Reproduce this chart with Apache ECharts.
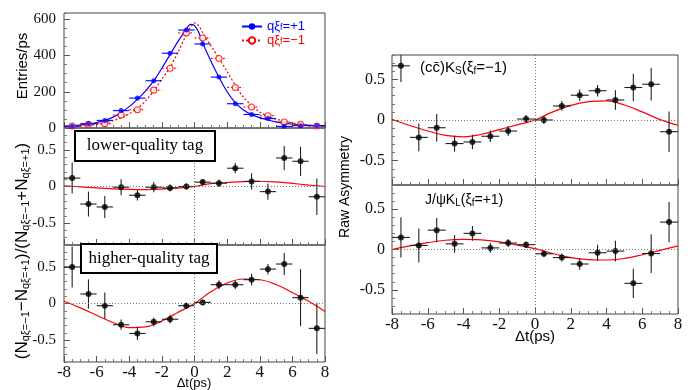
<!DOCTYPE html>
<html><head><meta charset="utf-8">
<script src="https://cdn.jsdelivr.net/npm/echarts@6/dist/echarts.min.js"></script>
<style>html,body{margin:0;padding:0;background:#fff}#c{width:691px;height:390px}</style>
</head><body><div id="c"></div><script>
// ---------- data ----------
const binCenters = [-7.5,-6.5,-5.5,-4.5,-3.5,-2.5,-1.5,-0.5,0.5,1.5,2.5,3.5,4.5,5.5,6.5,7.5];
const binHalfWidth = 0.5;

// top panel: entries/ps
const blueCounts = [10,24,42,96,165,261,413,541,464,281,134,75,52,9,13,13];
const redCounts  = [11,20,24,72,101,209,330,525,497,384,224,116,68,33,20,11];
const topCurveT = [-8,-7.5,-7,-6.5,-6,-5.5,-5,-4.5,-4,-3.5,-3,-2.5,-2,-1.5,-1,-0.5,-0.25,0,0.25,0.5,1,1.5,2,2.5,3,3.5,4,4.5,5,5.5,6,6.5,7,7.5,8];
const blueFit = [9,12,16,22,30,42,60,86,118,158,205,260,330,405,480,545,572,565,530,470,370,280,200,140,100,75,57,44,34,27,22,18,15,13,11];
const redFit  = [6,8,11,15,20,28,40,55,78,108,150,205,270,335,420,515,555,580,565,527,455,385,312,236,170,125,88,64,49,38,28,21,16,12,10];

// asymmetry panels
const asymCurveT = [-8,-7,-6,-5,-4,-3,-2,-1,0,1,2,3,4,5,6,7,8];
const lowerVals  = [0.115,-0.24,-0.28,-0.01,-0.12,-0.01,-0.02,0.0,0.06,0.045,0.25,0.07,-0.07,0.39,0.345,-0.14];
const lowerErrs  = [0.21,0.17,0.15,0.11,0.07,0.07,0.05,0.04,0.04,0.05,0.07,0.11,0.11,0.165,0.2,0.25];
const lowerFit   = [0.01,-0.005,-0.02,-0.032,-0.04,-0.043,-0.035,-0.02,0.0,0.04,0.055,0.068,0.072,0.062,0.042,0.02,0.0];

const higherVals = [0.50,0.13,-0.03,-0.29,-0.41,-0.25,-0.215,-0.03,0.015,0.257,0.257,0.326,0.47,0.54,0.08,-0.34];
const higherErrs = [0.28,0.2,0.18,0.07,0.09,0.06,0.06,0.04,0.04,0.06,0.06,0.08,0.07,0.15,0.39,0.35];
const higherFit  = [0.03,-0.06,-0.16,-0.26,-0.33,-0.32,-0.24,-0.12,0.0,0.16,0.28,0.335,0.325,0.26,0.15,0.03,-0.11];

const ksVals = [0.667,-0.214,-0.095,-0.29,-0.27,-0.2,-0.136,0.012,0.0,0.173,0.305,0.36,0.247,0.40,0.44,-0.144];
const ksErrs = [0.2,0.17,0.17,0.1,0.09,0.07,0.06,0.05,0.05,0.06,0.07,0.07,0.12,0.17,0.2,0.25];
const ksFit  = [0.01,-0.068,-0.135,-0.19,-0.208,-0.175,-0.118,-0.06,0.0,0.1,0.18,0.225,0.235,0.185,0.1,0.005,-0.065];

const klVals = [0.15,0.05,0.24,0.07,0.20,0.02,0.08,0.06,-0.053,-0.10,-0.18,-0.04,-0.02,-0.42,-0.05,0.34];
const klErrs = [0.25,0.21,0.15,0.11,0.09,0.06,0.05,0.04,0.04,0.05,0.07,0.1,0.13,0.18,0.24,0.25];
const klFit  = [0.0,0.045,0.085,0.115,0.125,0.12,0.095,0.055,0.01,-0.05,-0.1,-0.125,-0.13,-0.11,-0.065,-0.01,0.045];

const asymTickLabels = [-0.5,0,0.5];
const countTickLabels = [0,200,400,600];

// ---------- chart ----------
const SERIF = 'Liberation Serif', SANS = 'Liberation Sans';
const grids = [
  {left:64, top:13, width:261, height:115},
  {left:64, top:128, width:261, height:117},
  {left:64, top:245, width:261, height:117},
  {left:392, top:55, width:286, height:130},
  {left:392, top:185, width:286, height:129}
].map(g => Object.assign({show:true, borderColor:'#444', borderWidth:1, backgroundColor:'rgba(0,0,0,0)'}, g));

function xAx(i, showLabels){
  return {type:'value', gridIndex:i, min:-8, max:8, interval:2, position:'bottom',
    axisLine:{show:false, onZero:false}, splitLine:{show:false},
    axisTick:{show:true, inside:true, length:6, lineStyle:{color:'#555'}},
    minorTick:{show:true, splitNumber:4, length:3, lineStyle:{color:'#777'}},
    axisLabel:{show:showLabels, fontFamily:SERIF, fontSize:17, color:'#111', margin:2, showMinLabel:true, showMaxLabel:true}};
}
function fmtAsym(v){ const r = Math.round(v*2)/2; return r === 0 ? '0' : String(r); }
function isHalf(v){ return Math.abs(v*2 - Math.round(v*2)) < 1e-6; }
function yAsym(i, fontSize, margin){
  return [
    {type:'value', gridIndex:i, min:-0.8, max:0.8, interval:0.1, position:'left',
      axisLine:{show:false, onZero:false}, splitLine:{show:false},
      axisTick:{show:true, inside:true, length:3, lineStyle:{color:'#777'}},
      axisLabel:{fontFamily:SERIF, fontSize:fontSize, color:'#111', margin:margin,
        formatter: v => isHalf(v) ? fmtAsym(v) : ''}},
    {type:'value', gridIndex:i, min:-0.8, max:0.8, position:'left', offset:0,
      axisLine:{show:false, onZero:false}, splitLine:{show:false},
      axisTick:{show:true, inside:true, length:6, customValues:asymTickLabels, lineStyle:{color:'#555'}},
      axisLabel:{show:false}}
  ];
}
const yAxes = [
  {type:'value', gridIndex:0, min:0, max:635, interval:50, position:'left',
    axisLine:{show:false, onZero:false}, splitLine:{show:false},
    axisTick:{show:true, inside:true, length:3, lineStyle:{color:'#777'}},
    axisLabel:{fontFamily:SERIF, fontSize:15, color:'#111', margin:8,
      formatter: v => countTickLabels.indexOf(v) >= 0 ? String(v) : ''}},
  {type:'value', gridIndex:0, min:0, max:635, position:'left', offset:0,
    axisLine:{show:false, onZero:false}, splitLine:{show:false},
    axisTick:{show:true, inside:true, length:6, customValues:countTickLabels, lineStyle:{color:'#555'}},
    axisLabel:{show:false}},
  ...yAsym(1, 15, 8), ...yAsym(2, 15, 8), ...yAsym(3, 16, 7), ...yAsym(4, 16, 7)
];

function errRender(color, dash){
  return function(params, api){
    const x = api.value(0), y = api.value(1), ex = api.value(2), ey = api.value(3);
    const cs = params.coordSys;
    const cy = v => Math.max(cs.y, Math.min(cs.y + cs.height, v));
    const cx = v => Math.max(cs.x, Math.min(cs.x + cs.width, v));
    const l = api.coord([x - ex, y]), r = api.coord([x + ex, y]);
    const t = api.coord([x, y + ey]), b = api.coord([x, y - ey]);
    const style = {stroke: color, lineWidth: 1.1, lineDash: dash || null};
    const children = [
      {type:'line', shape:{x1:cx(l[0]), y1:l[1], x2:cx(r[0]), y2:r[1]}, style:style}
    ];
    if (ey > 0) children.push({type:'line', shape:{x1:t[0], y1:cy(t[1]), x2:b[0], y2:cy(b[1])}, style:style});
    return {type:'group', children: children};
  };
}
function errData(vals, errs){ return binCenters.map((c, k) => [c, vals[k], binHalfWidth, errs ? errs[k] : 0]); }
function pts(xs, ys){ return xs.map((x, k) => [x, ys[k]]); }

const zeroLines = {silent:true, symbol:'none', label:{show:false},
  lineStyle:{type:[1,2], color:'#777', width:1}, data:[{yAxis:0},{xAxis:0}]};

const series = [
  {name:'blueFit', type:'line', xAxisIndex:0, yAxisIndex:0, data:pts(topCurveT, blueFit), smooth:0.3,
    symbol:'circle', symbolSize:5, showSymbol:false, color:'#0000ff', lineStyle:{width:1.2, color:'#0000ff'}, z:2},
  {name:'redFit', type:'line', xAxisIndex:0, yAxisIndex:0, data:pts(topCurveT, redFit), smooth:0.3,
    symbol:'emptyCircle', symbolSize:6, showSymbol:false, color:'#ff0000', lineStyle:{width:1.2, color:'#ff0000', type:[2,2]}, z:2},
  {type:'custom', xAxisIndex:0, yAxisIndex:0, renderItem:errRender('#ff0000',[2,2]), data:errData(redCounts), silent:true, z:3},
  {type:'custom', xAxisIndex:0, yAxisIndex:0, renderItem:errRender('#0000ff'), data:errData(blueCounts), silent:true, z:3},
  {type:'scatter', xAxisIndex:0, yAxisIndex:0, data:pts(binCenters, redCounts), symbol:'circle', symbolSize:6,
    itemStyle:{color:'#fff', borderColor:'#ff0000', borderWidth:1.1}, silent:true, z:4},
  {type:'scatter', xAxisIndex:0, yAxisIndex:0, data:pts(binCenters, blueCounts), symbol:'circle', symbolSize:5,
    itemStyle:{color:'#0000ff'}, silent:true, z:5}
];
const panels = [
  {g:1, y:2, vals:lowerVals, errs:lowerErrs, fit:lowerFit},
  {g:2, y:4, vals:higherVals, errs:higherErrs, fit:higherFit},
  {g:3, y:6, vals:ksVals, errs:ksErrs, fit:ksFit},
  {g:4, y:8, vals:klVals, errs:klErrs, fit:klFit}
];
panels.forEach(p => {
  series.push({type:'line', xAxisIndex:p.g, yAxisIndex:p.y, data:pts(asymCurveT, p.fit), smooth:0.4,
    showSymbol:false, symbol:'none', lineStyle:{color:'#ff0000', width:1.2}, silent:true, z:2,
    markLine: zeroLines});
  series.push({type:'custom', xAxisIndex:p.g, yAxisIndex:p.y, renderItem:errRender('#222'),
    data:errData(p.vals, p.errs), silent:true, z:3});
  series.push({type:'scatter', xAxisIndex:p.g, yAxisIndex:p.y, data:pts(binCenters, p.vals),
    symbol:'circle', symbolSize:6, itemStyle:{color:'#000'}, silent:true, z:4});
});

const subS = {fontFamily:SANS, fontSize:9, lineHeight:6, verticalAlign:'bottom'};
const option = {
  animation:false,
  backgroundColor:'#fff',
  grid: grids,
  xAxis: [xAx(0,false), xAx(1,false), xAx(2,true), xAx(3,false), xAx(4,true)],
  yAxis: yAxes,
  legend: {orient:'vertical', left:236, top:15, itemWidth:20, itemHeight:8, itemGap:1, selectedMode:false,
    data:[{name:'blueFit', textStyle:{color:'#0000ff'}}, {name:'redFit', textStyle:{color:'#ff0000'}}],
    formatter: n => n === 'blueFit' ? 'qξ{b|f}=+1' : 'qξ{r|f}=\u22121',
    textStyle:{fontFamily:SANS, fontSize:13, lineHeight:12,
      rich:{b:Object.assign({color:'#0000ff'}, subS), r:Object.assign({color:'#ff0000'}, subS)}}},
  series: series,
  graphic: [
    {type:'text', x:23, y:66, rotation:Math.PI/2, z:100,
      style:{text:'Entries/ps', fontFamily:SANS, fontSize:15, fill:'#000', align:'center', verticalAlign:'middle'}},
    {type:'text', x:22, y:251, rotation:Math.PI/2, z:100,
      style:{text:'(N{s|qξ=\u22121}\u2212N{s|qξ=+1})/(N{s|qξ=\u22121}+N{s|qξ=+1})',
        fontFamily:SANS, fontSize:17, lineHeight:18, fill:'#000', align:'center', verticalAlign:'middle',
        rich:{s:{fontFamily:SANS, fontSize:11, lineHeight:8, verticalAlign:'bottom', fill:'#000'}}}},
    {type:'text', x:345, y:187, rotation:Math.PI/2, z:100,
      style:{text:'Raw Asymmetry', fontFamily:SANS, fontSize:14, fill:'#000', align:'center', verticalAlign:'middle'}},
    {type:'text', x:194, y:383, z:100,
      style:{text:'\u0394t(ps)', fontFamily:SANS, fontSize:13, fill:'#000', align:'center', verticalAlign:'middle'}},
    {type:'text', x:535, y:337, z:100,
      style:{text:'\u0394t(ps)', fontFamily:SANS, fontSize:15, fill:'#000', align:'center', verticalAlign:'middle'}},
    {type:'rect', z:100, shape:{x:75, y:131, width:140, height:30}, style:{fill:'#fff', stroke:'#000', lineWidth:2}},
    {type:'text', x:145, y:146, z:101,
      style:{text:'lower-quality tag', fontFamily:SERIF, fontSize:17, fill:'#000', align:'center', verticalAlign:'middle'}},
    {type:'rect', z:100, shape:{x:81, y:244, width:136, height:29}, style:{fill:'#fff', stroke:'#000', lineWidth:2}},
    {type:'text', x:149, y:258.5, z:101,
      style:{text:'higher-quality tag', fontFamily:SERIF, fontSize:17, fill:'#000', align:'center', verticalAlign:'middle'}},
    {type:'text', x:420, y:68, z:100,
      style:{text:'(cc\u0304)K{s|S}(\u03be{s|f}=\u22121)', fontFamily:SANS, fontSize:15, lineHeight:16, fill:'#000', align:'left', verticalAlign:'middle',
        rich:{s:{fontFamily:SANS, fontSize:10, lineHeight:6, verticalAlign:'bottom', fill:'#000'}}}},
    {type:'text', x:425, y:200, z:100,
      style:{text:'J/\u03c8K{s|L}(\u03be{s|f}=+1)', fontFamily:SANS, fontSize:14, lineHeight:16, fill:'#000', align:'left', verticalAlign:'middle',
        rich:{s:{fontFamily:SANS, fontSize:10, lineHeight:6, verticalAlign:'bottom', fill:'#000'}}}}
  ]
};
const chart = echarts.init(document.getElementById('c'), null, {renderer:'canvas'});
chart.setOption(option);
</script></body></html>
